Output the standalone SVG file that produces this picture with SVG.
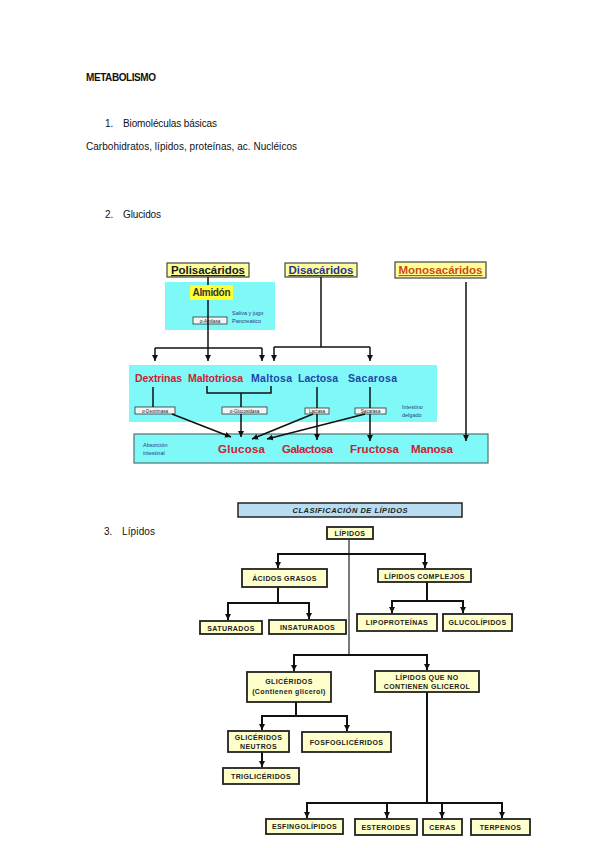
<svg xmlns="http://www.w3.org/2000/svg" width="599" height="848" viewBox="0 0 599 848">
<style>
.doc{font-family:"Liberation Sans","Open Sans",Arial,sans-serif;font-size:10px;fill:#111}
.hdr{font-family:"Liberation Sans",Arial,sans-serif;font-weight:bold;font-size:11.5px;text-decoration:underline}
.hbox{fill:#ffff99;stroke:#444;stroke-width:1.2}
.cyan{fill:#7ff8f8}
.sug{font-family:"Liberation Sans",Arial,sans-serif;font-weight:bold;font-size:10.5px}
.big{font-size:11.5px}
.red{fill:#cc2233}
.blue{fill:#2244aa}
.enz{fill:#f4f4f4;stroke:#333;stroke-width:0.8}
.enzt{font-family:"Liberation Sans",Arial,sans-serif;font-size:4.6px;fill:#222;text-anchor:middle}
.note{font-family:"Liberation Sans",Arial,sans-serif;font-size:5.5px;fill:#2a3a88}
.gl{fill:none;stroke:#111;stroke-width:1.5}
.ll{fill:none;stroke:#111;stroke-width:2}
.lbox{fill:#ffffcc;stroke:#222;stroke-width:1.8}
.lt{font-family:"Liberation Sans",Arial,sans-serif;font-weight:bold;font-size:7px;fill:#222;text-anchor:middle;letter-spacing:0.4px}
</style>
<defs>
<marker id="ah" viewBox="0 0 10 10" refX="10" refY="5" markerWidth="6" markerHeight="6" markerUnits="userSpaceOnUse" orient="auto"><path d="M0,0 L10,5 L0,10 z" fill="#111"/></marker>
</defs>
<rect width="599" height="848" fill="#fff"/>

<g id="doc-text">
<text class="doc" x="86" y="81" font-weight="bold" textLength="70">METABOLISMO</text>
<text class="doc" x="105" y="127">1.</text>
<text class="doc" x="123" y="127" textLength="94">Biomoléculas básicas</text>
<text class="doc" x="86" y="150" textLength="211">Carbohidratos, lípidos, proteínas, ac. Nucléicos</text>
<text class="doc" x="105" y="218">2.</text>
<text class="doc" x="123" y="218" textLength="38">Glucidos</text>
<text class="doc" x="104" y="535">3.</text>
<text class="doc" x="122" y="535" textLength="33">Lípidos</text>
</g>

<g id="glucidos">
<g id="panels">
<rect class="cyan" x="165" y="282" width="110" height="48"/>
<rect class="cyan" x="129" y="365" width="308" height="57"/>
<rect class="cyan" x="134" y="434" width="354" height="29" stroke="#557070" stroke-width="1.2"/>
</g>
<g id="polisacaridos">
<rect class="hbox" x="167" y="263" width="82" height="14"/>
<text class="hdr" x="208" y="274" text-anchor="middle" fill="#1a1a1a" textLength="74">Polisacáridos</text>
</g>
<g id="disacaridos">
<rect class="hbox" x="285" y="263" width="72" height="14"/>
<text class="hdr" x="321" y="274" text-anchor="middle" fill="#2a3590" textLength="65">Disacáridos</text>
</g>
<g id="monosacaridos">
<rect class="hbox" x="395" y="262" width="91" height="16"/>
<text class="hdr" x="440.5" y="274" text-anchor="middle" fill="#cc4a14" textLength="84">Monosacáridos</text>
</g>
<g id="almidon">
<rect x="190" y="285" width="43" height="15" fill="#ffff33"/>
<text x="211.5" y="296" text-anchor="middle" font-family="Liberation Sans,Arial,sans-serif" font-weight="bold" font-size="10" fill="#333" textLength="38">Almidón</text>
</g>
<g id="amilasa">
<rect class="enz" x="193" y="317" width="34" height="7"/>
<text class="enzt" x="210" y="322.5">α-Amilasa</text>
<text class="note" x="232" y="315">Saliva y jugo</text>
<text class="note" x="232" y="323">Pancreatico</text>
</g>
<g id="disac-row">
<text class="sug red" x="135" y="382" textLength="47">Dextrinas</text>
<text class="sug red" x="188" y="382" textLength="55">Maltotriosa</text>
<text class="sug blue" x="251" y="382" textLength="41">Maltosa</text>
<text class="sug blue" x="298" y="382" textLength="40">Lactosa</text>
<text class="sug blue" x="348" y="382" textLength="49">Sacarosa</text>
</g>
<g id="enzimas">
<rect class="enz" x="135" y="407" width="40" height="7"/>
<text class="enzt" x="155" y="412.5">α-Dextrinasa</text>
<rect class="enz" x="222" y="407" width="45" height="7"/>
<text class="enzt" x="244.5" y="412.5">α-Glucosidasa</text>
<rect class="enz" x="305" y="408" width="24" height="6"/>
<text class="enzt" x="317" y="413">Lactasa</text>
<rect class="enz" x="355" y="408" width="31" height="6"/>
<text class="enzt" x="370.5" y="413">Sacarasa</text>
<text class="note" x="402" y="409">Intestino</text>
<text class="note" x="402" y="417">delgado</text>
</g>
<g id="monos-row">
<text class="note" x="143" y="447" fill="#223">Absorción</text>
<text class="note" x="143" y="455" fill="#223">intestinal</text>
<text class="sug big red" x="218" y="453" textLength="47">Glucosa</text>
<text class="sug big red" x="282" y="453" textLength="51">Galactosa</text>
<text class="sug big red" x="350" y="453" textLength="49">Fructosa</text>
<text class="sug big red" x="411" y="453" textLength="42">Manosa</text>
</g>
<g id="glucidos-connectors">
<path class="gl" d="M208,277 V285 M208,300 V348 M155,348 H262 M321,277 V347 M274,347 H370 M153,387 V407 M207,386 V393 H271 V386 M241,393 V407 M317,387 V408 M370,387 V408"/>
<path class="gl" marker-end="url(#ah)" d="M155,348 V361"/>
<path class="gl" marker-end="url(#ah)" d="M208,348 V361"/>
<path class="gl" marker-end="url(#ah)" d="M262,348 V361"/>
<path class="gl" marker-end="url(#ah)" d="M274,347 V361"/>
<path class="gl" marker-end="url(#ah)" d="M370,347 V361"/>
<path class="gl" marker-end="url(#ah)" d="M466,282 V441"/>
<path class="gl" marker-end="url(#ah)" d="M172,414 L231,437"/>
<path class="gl" marker-end="url(#ah)" d="M241,414 V437"/>
<path class="gl" marker-end="url(#ah)" d="M313,414 L252,439"/>
<path class="gl" marker-end="url(#ah)" d="M317,414 V440"/>
<path class="gl" marker-end="url(#ah)" d="M365,414 L267,439"/>
<path class="gl" marker-end="url(#ah)" d="M370,414 V441"/>
</g>
</g>

<g id="lipidos">
<g id="title">
<rect x="238" y="503" width="224" height="14" fill="#b8dcf0" stroke="#222" stroke-width="1.5"/>
<text x="350" y="513" text-anchor="middle" font-family="Liberation Sans,Arial,sans-serif" font-style="italic" font-weight="bold" font-size="7.5" fill="#222" textLength="115">CLASIFICACIÓN DE LÍPIDOS</text>
</g>
<g id="lipidos-connectors">
<path d="M349,539 V655" fill="none" stroke="#222" stroke-width="1.2"/>
<path class="ll" d="M278,587 V603 M427,581 V601 M296,702 V716 M427,692 V803"/>
<path class="ll" marker-end="url(#ah)" d="M349,554 H278 V568"/>
<path class="ll" marker-end="url(#ah)" d="M349,554 H425 V568"/>
<path class="ll" marker-end="url(#ah)" d="M278,603 H228 V620"/>
<path class="ll" marker-end="url(#ah)" d="M278,603 H309 V619"/>
<path class="ll" marker-end="url(#ah)" d="M427,601 H392 V613"/>
<path class="ll" marker-end="url(#ah)" d="M427,601 H463 V613"/>
<path class="ll" marker-end="url(#ah)" d="M349,655 H294 V671"/>
<path class="ll" marker-end="url(#ah)" d="M349,655 H427 V670"/>
<path class="ll" marker-end="url(#ah)" d="M296,716 H262 V730"/>
<path class="ll" marker-end="url(#ah)" d="M296,716 H347 V731"/>
<path class="ll" marker-end="url(#ah)" d="M262,752 V767"/>
<path class="ll" marker-end="url(#ah)" d="M427,803 H307 V818"/>
<path class="ll" marker-end="url(#ah)" d="M387,803 V818"/>
<path class="ll" marker-end="url(#ah)" d="M442,803 V818"/>
<path class="ll" marker-end="url(#ah)" d="M427,803 H502 V818"/>
</g>
<g id="n-lipidos"><rect class="lbox" x="327" y="527" width="46" height="12"/><text class="lt" x="350" y="536">LÍPIDOS</text></g>
<g id="n-acidos"><rect class="lbox" x="242" y="569" width="85" height="18"/><text class="lt" x="284.5" y="580.5">ÁCIDOS GRASOS</text></g>
<g id="n-complejos"><rect class="lbox" x="378" y="569" width="93" height="13"/><text class="lt" x="424.5" y="578.5">LÍPIDOS COMPLEJOS</text></g>
<g id="n-saturados"><rect class="lbox" x="200" y="621" width="62" height="13"/><text class="lt" x="231" y="630.5">SATURADOS</text></g>
<g id="n-insaturados"><rect class="lbox" x="269" y="620" width="77" height="14"/><text class="lt" x="307.5" y="630">INSATURADOS</text></g>
<g id="n-lipoproteinas"><rect class="lbox" x="357" y="614" width="80" height="17"/><text class="lt" x="397" y="625">LIPOPROTEÍNAS</text></g>
<g id="n-glucolipidos"><rect class="lbox" x="443" y="614" width="69" height="17"/><text class="lt" x="477.5" y="625">GLUCOLÍPIDOS</text></g>
<g id="n-gliceridos"><rect class="lbox" x="247" y="672" width="84" height="30"/><text class="lt" x="289" y="684">GLICÉRIDOS</text><text class="lt" x="289" y="694" letter-spacing="0.2">(Contienen glicerol)</text></g>
<g id="n-noglicerol"><rect class="lbox" x="375" y="671" width="104" height="21"/><text class="lt" x="427" y="679.5">LÍPIDOS QUE NO</text><text class="lt" x="427" y="689">CONTIENEN GLICEROL</text></g>
<g id="n-neutros"><rect class="lbox" x="228" y="731" width="61" height="21"/><text class="lt" x="258.5" y="739.5">GLICÉRIDOS</text><text class="lt" x="258.5" y="749">NEUTROS</text></g>
<g id="n-fosfogliceridos"><rect class="lbox" x="302" y="732" width="89" height="20"/><text class="lt" x="346.5" y="744.5">FOSFOGLICÉRIDOS</text></g>
<g id="n-trigliceridos"><rect class="lbox" x="223" y="768" width="76" height="16"/><text class="lt" x="261" y="778.5">TRIGLICÉRIDOS</text></g>
<g id="n-esfingolipidos"><rect class="lbox" x="266" y="819" width="77" height="15"/><text class="lt" x="304.5" y="829">ESFINGOLÍPIDOS</text></g>
<g id="n-esteroides"><rect class="lbox" x="355" y="819" width="62" height="16"/><text class="lt" x="386" y="829.5">ESTEROIDES</text></g>
<g id="n-ceras"><rect class="lbox" x="423" y="819" width="39" height="16"/><text class="lt" x="442.5" y="829.5">CERAS</text></g>
<g id="n-terpenos"><rect class="lbox" x="471" y="819" width="59" height="16"/><text class="lt" x="500.5" y="829.5">TERPENOS</text></g>
</g>
</svg>
